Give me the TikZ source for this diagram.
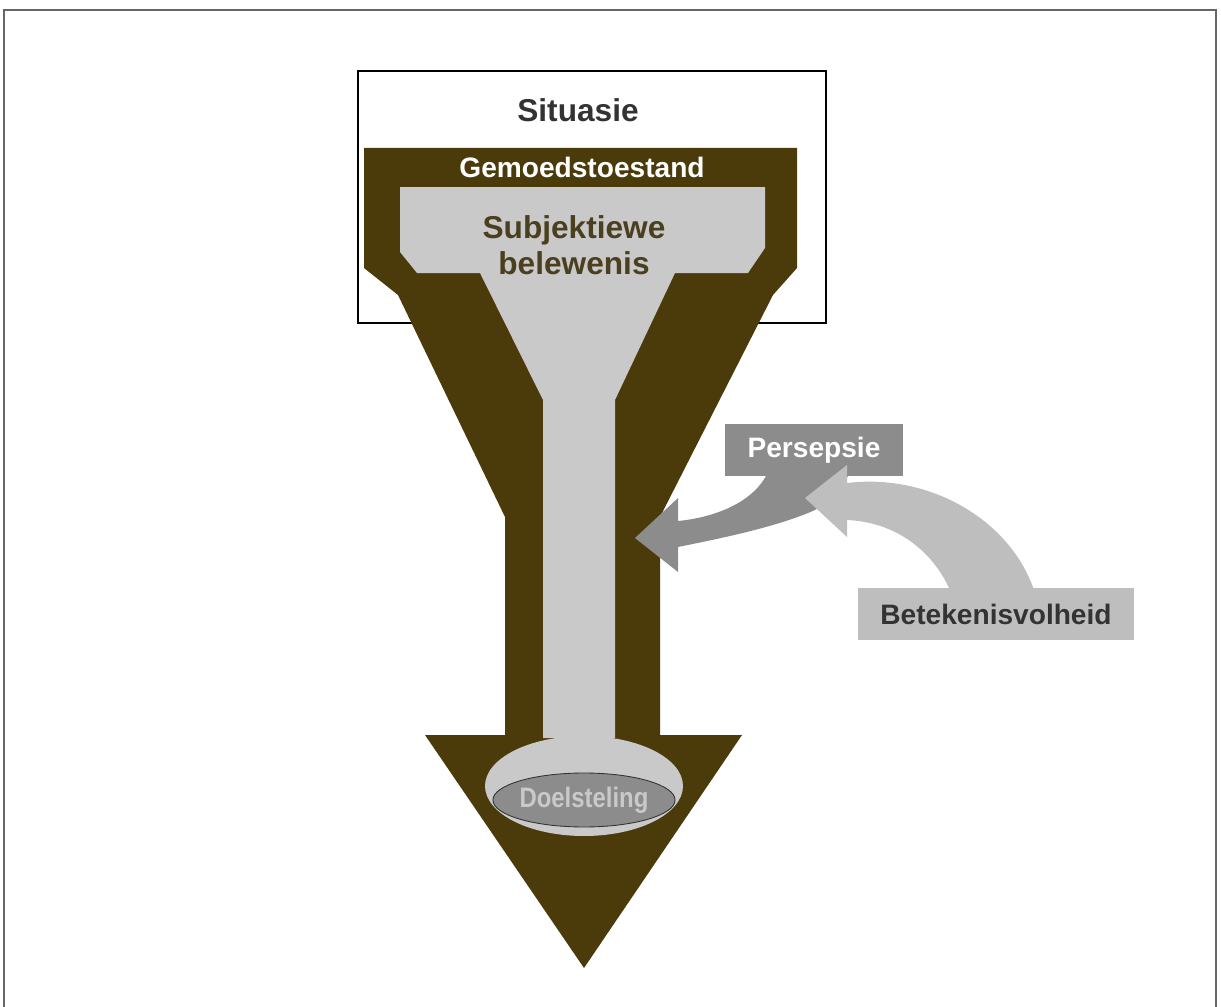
\documentclass[tikz,border=0pt]{standalone}
\usepackage{fontspec}
\setmainfont{Liberation Sans}
\usetikzlibrary{shapes.geometric}
\definecolor{brownD}{HTML}{4B3A0A}
\definecolor{lightG}{HTML}{C9C9C9}
\definecolor{midG}{HTML}{8C8C8C}
\definecolor{betG}{HTML}{BEBEBE}
\definecolor{frameG}{HTML}{666666}
\definecolor{txtD}{HTML}{333333}
\definecolor{subjT}{HTML}{4A4020}
\tikzset{
  lbl/.style={font=\bfseries\fontsize{18}{20.5}\selectfont, inner sep=0pt, align=center},
  boxrect/.style={inner sep=0pt, draw=none},
}
\begin{document}
\begin{tikzpicture}[x=0.02cm,y=-0.02cm]
\useasboundingbox (0,0) rectangle (1221,1007);
% outer frame
\draw[frameG, line width=1.1pt] (4,1007) -- (4,10) -- (1216,10) -- (1216,1007);
% Situasie box
\node[boxrect, draw=black, line width=0.7pt, minimum width=9.36cm, minimum height=5.04cm] (sit) at (592,197) {};
\node[lbl, text=txtD] (sitT) at (578,110) {Situasie};
% funnel
\fill[brownD] (364,148) -- (797,148) -- (797,268) -- (773,295) -- (660,517) -- (660,735)
  -- (742,735) -- (584,968) -- (425,735) -- (505,735) -- (505,517) -- (398,295) -- (364,268) -- cycle;
\fill[lightG] (400,187) -- (765,187) -- (765,248) -- (748,273) -- (675,273) -- (615,400)
  -- (615,738) -- (543,738) -- (543,400) -- (480,273) -- (417,273) -- (400,252) -- cycle;
\node[lbl, text=white, font=\bfseries\fontsize{16}{18}\selectfont] (gem) at (582,167) {Gemoedstoestand};
\node[lbl, text=subjT] (subj) at (574,245) {Subjektiewe\\belewenis};
% ellipses
\node[ellipse, fill=lightG, inner sep=0pt, minimum width=3.96cm, minimum height=2cm] (goalOuter) at (584,786) {};
\node[ellipse, fill=midG, draw=txtD, line width=0.5pt, inner sep=0pt, minimum width=3.4cm, minimum height=1.08cm,
  text=lightG, font=\bfseries\fontsize{16}{18}\selectfont] (goal) at (584,800) {\scalebox{0.85}[1]{Doelsteling}};
% Persepsie arrow (dark)
\fill[midG] (766,476) .. controls (750,505) and (710,518) .. (678,521) -- (678,498) -- (635,538)
  -- (678,572) -- (678,547) .. controls (712,540) and (775,528) .. (815,510)
  .. controls (830,500) and (840,490) .. (848,476) -- cycle;
\node[boxrect, fill=midG, minimum width=3.56cm, minimum height=1.04cm, text=white,
  font=\bfseries\fontsize{16}{18}\selectfont] (pers) at (814,450) {Persepsie};
% Betekenisvolheid arrow (light)
\fill[betG] (805,498) -- (847,465) -- (847,483) .. controls (930,473) and (1010,520) .. (1034,590)
  -- (950,590) .. controls (932,550) and (895,522) .. (847,520) -- (847,537) -- cycle;
\node[boxrect, fill=betG, minimum width=5.54cm, minimum height=1.04cm, text=txtD,
  font=\bfseries\fontsize{16}{18}\selectfont] (bet) at (996,614) {Betekenisvolheid};
\end{tikzpicture}
\end{document}
